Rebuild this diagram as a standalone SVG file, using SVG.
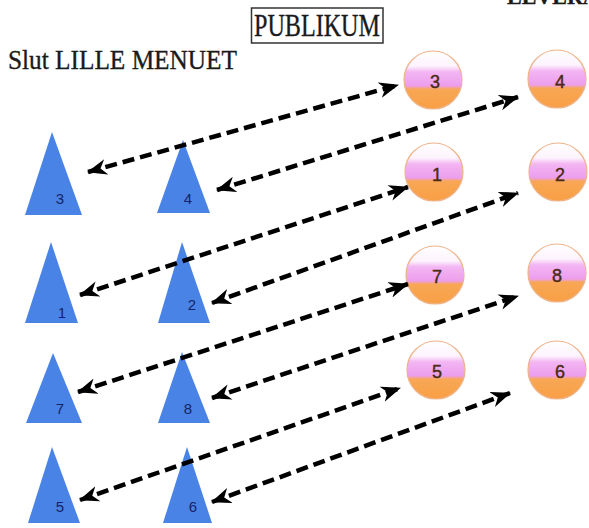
<svg xmlns="http://www.w3.org/2000/svg" width="589" height="528" viewBox="0 0 589 528">
<defs>
<linearGradient id="ball" x1="0" y1="0" x2="0" y2="1">
<stop offset="0" stop-color="#ffffff"/>
<stop offset="0.26" stop-color="#fdf3fd"/>
<stop offset="0.36" stop-color="#f3b6f3"/>
<stop offset="0.6" stop-color="#ec9eec"/>
<stop offset="0.66" stop-color="#f8a755"/>
<stop offset="1" stop-color="#f89f45"/>
</linearGradient>
<marker id="ah" viewBox="0 0 20 16" markerWidth="20" markerHeight="16" refX="19" refY="8" orient="auto-start-reverse" markerUnits="userSpaceOnUse">
<path d="M0,0 L20,8 L0,16 L6,8 Z" fill="#000"/>
</marker>
<style>
.tri{fill:#4a83e6;}
.tl{font-family:"Liberation Sans",Arial,sans-serif;font-size:15px;fill:#14246a;text-anchor:middle;}
.ball{fill:url(#ball);stroke:#efb38a;stroke-width:1.2;}
.bl{font-family:"Liberation Sans",Arial,sans-serif;font-size:18px;fill:#4a2a12;text-anchor:middle;stroke:#4a2a12;stroke-width:0.4;}
.con{stroke:#000;stroke-width:4.5;stroke-dasharray:12 6;fill:none;marker-start:url(#ah);marker-end:url(#ah);}
.title{font-family:"Liberation Serif","Times New Roman",serif;fill:#1a1a1a;stroke:#1a1a1a;stroke-width:0.35;}
</style>
</defs>
<rect width="589" height="528" fill="#fff"/>
<text class="title" x="507" y="4" font-size="22" font-weight="bold">LEVERAN</text>
<g id="publikum">
<rect x="251.5" y="8" width="131.5" height="35" fill="none" stroke="#333" stroke-width="1.5"/>
<text class="title" x="254" y="36" font-size="31" textLength="126" lengthAdjust="spacingAndGlyphs">PUBLIKUM</text>
</g>
<text class="title" x="8" y="69" font-size="28" textLength="229" lengthAdjust="spacingAndGlyphs">Slut LILLE MENUET</text>

<g id="t3"><polygon class="tri" points="52,132 82,215 25,215"/><text class="tl" x="60" y="204">3</text></g>
<g id="t4"><polygon class="tri" points="183,140 210,213 157,213"/><text class="tl" x="188" y="204">4</text></g>
<g id="t1"><polygon class="tri" points="51,242 78,323 25,323"/><text class="tl" x="62" y="318">1</text></g>
<g id="t2"><polygon class="tri" points="182,242 210,323 158,323"/><text class="tl" x="192" y="310">2</text></g>
<g id="t7"><polygon class="tri" points="53,353 82,423 26,423"/><text class="tl" x="60" y="414">7</text></g>
<g id="t8"><polygon class="tri" points="182,352 210,423 158,423"/><text class="tl" x="188" y="414">8</text></g>
<g id="t5"><polygon class="tri" points="52,447 80,523 28,523"/><text class="tl" x="60" y="512">5</text></g>
<g id="t6"><polygon class="tri" points="187,447 212,523 163,523"/><text class="tl" x="193" y="512">6</text></g>

<g id="c3"><circle class="ball" cx="433" cy="80" r="29"/><text class="bl" x="435" y="88">3</text></g>
<g id="c4"><circle class="ball" cx="557" cy="79" r="29"/><text class="bl" x="560" y="88">4</text></g>
<g id="c1"><circle class="ball" cx="434" cy="172" r="29"/><text class="bl" x="437" y="181">1</text></g>
<g id="c2"><circle class="ball" cx="558" cy="172" r="29"/><text class="bl" x="560" y="181">2</text></g>
<g id="c7"><circle class="ball" cx="435" cy="275" r="29"/><text class="bl" x="437" y="283">7</text></g>
<g id="c8"><circle class="ball" cx="557" cy="273" r="29"/><text class="bl" x="557" y="282">8</text></g>
<g id="c5"><circle class="ball" cx="436" cy="370" r="29"/><text class="bl" x="437" y="378">5</text></g>
<g id="c6"><circle class="ball" cx="557" cy="370" r="29"/><text class="bl" x="560" y="378">6</text></g>

<g id="connectors">
<line class="con" x1="88" y1="172" x2="398" y2="85"/>
<line class="con" x1="217" y1="190" x2="518" y2="97"/>
<line class="con" x1="80" y1="295" x2="408" y2="187"/>
<line class="con" x1="212" y1="303" x2="518" y2="193"/>
<line class="con" x1="78" y1="392" x2="408" y2="284"/>
<line class="con" x1="212" y1="398" x2="518" y2="296"/>
<line class="con" x1="80" y1="500" x2="400" y2="388"/>
<line class="con" x1="212" y1="502" x2="510" y2="393"/>
</g>
</svg>
